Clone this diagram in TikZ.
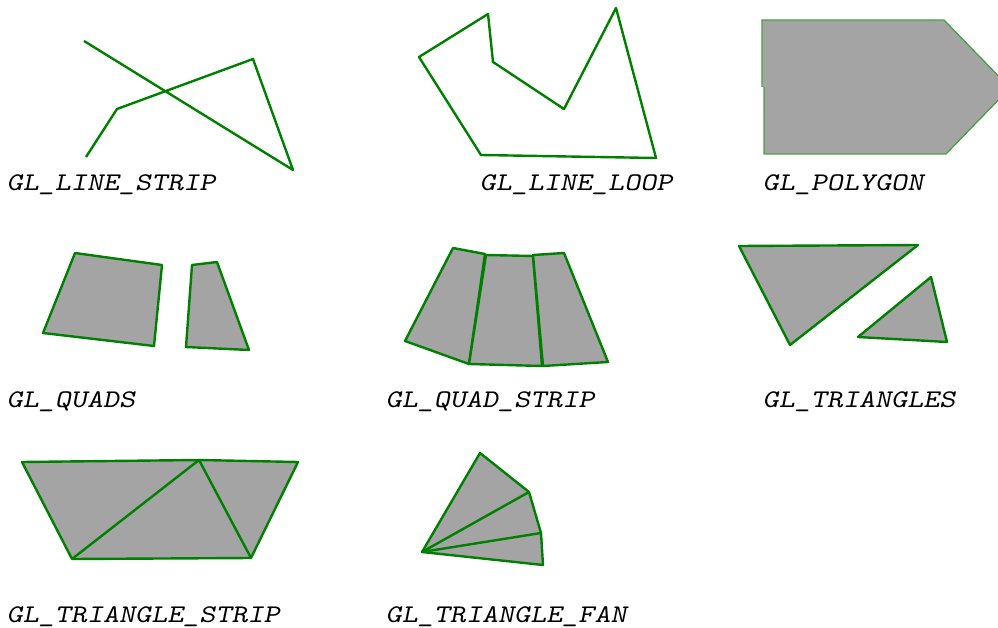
\documentclass[tikz,border=0pt]{standalone}
\definecolor{glgreen}{RGB}{0,128,0}
\definecolor{polygreen}{RGB}{70,160,70}
\definecolor{glgray}{RGB}{164,164,164}
\newcommand{\gllabel}[1]{\scalebox{1}[0.83]{#1}}
\begin{document}
\begin{tikzpicture}[x=1pt,y=-1pt,
  edge/.style={draw=glgreen,line width=2.4pt,line join=round},
  face/.style={fill=glgray,draw=glgreen,line width=2.4pt,line join=round},
  lbl/.style={anchor=base west,inner sep=0pt,font=\fontsize{30.6pt}{34pt}\ttfamily\slshape}]
\useasboundingbox (0,0) rectangle (998,628);
\clip (0,0) rectangle (998,628);
% GL_LINE_STRIP
\draw[edge] (86,157) -- (117,109) -- (253,59) -- (293,170) -- (84,41);
% GL_LINE_LOOP
\draw[edge] (419,57) -- (488,14) -- (493,62) -- (564,109) -- (616,8) -- (656,158) -- (481,155) -- cycle;
% GL_POLYGON
\fill[glgray] (762,20) -- (944,20) -- (1010,88) -- (946,154) -- (764,154) -- (764,87) -- (762,87) -- cycle;
\draw[polygreen,line width=1.3pt] (762,87) -- (762,20) -- (944,20) -- (977,54) -- (979,56) -- (1010,88) -- (979,120) -- (977,122) -- (946,154) -- (764,154) -- (764,87);
% GL_QUADS
\draw[face] (75,253) -- (162,265) -- (154,346) -- (43,333) -- cycle;
\draw[face] (192,265) -- (217,262) -- (249,350) -- (186,347) -- cycle;
% GL_QUAD_STRIP
\draw[face] (453,248) -- (485,254) -- (469,364) -- (405,341) -- cycle;
\draw[face] (486,255) -- (533,256) -- (542,366) -- (469,364) -- cycle;
\draw[face] (533,255) -- (564,253) -- (608,362) -- (543,366) -- cycle;
% GL_TRIANGLES
\draw[face] (739,246) -- (918,245) -- (790,345) -- cycle;
\draw[face] (931,277) -- (947,342) -- (858,337) -- cycle;
% GL_TRIANGLE_STRIP
\coordinate (s1) at (22,462);
\coordinate (s2) at (199,460);
\coordinate (s3) at (298,462);
\coordinate (s4) at (251,558);
\coordinate (s5) at (72,559);
\draw[face] (s1) -- (s2) -- (s3) -- (s4) -- (s5) -- cycle;
\draw[edge] (s5) -- (s2) -- (s4);
% GL_TRIANGLE_FAN
\coordinate (c) at (422,552);
\coordinate (f1) at (480,453);
\coordinate (f2) at (529,492);
\coordinate (f3) at (541,533);
\coordinate (f4) at (543,565);
\draw[face] (c) -- (f1) -- (f2) -- (f3) -- (f4) -- cycle;
\draw[edge] (c) -- (f2) (c) -- (f3);
% labels
\node[lbl] (l1) at (6.5,191) {\gllabel{GL\_LINE\_STRIP}};
\node[lbl] (l2) at (479.5,191) {\gllabel{GL\_LINE\_LOOP}};
\node[lbl] (l3) at (762.5,191) {\gllabel{GL\_POLYGON}};
\node[lbl] (l4) at (6.5,407) {\gllabel{GL\_QUADS}};
\node[lbl] (l5) at (385.5,407) {\gllabel{GL\_QUAD\_STRIP}};
\node[lbl] (l6) at (762.5,407) {\gllabel{GL\_TRIANGLES}};
\node[lbl] (l7) at (6.5,622) {\gllabel{GL\_TRIANGLE\_STRIP}};
\node[lbl] (l8) at (385.5,622) {\gllabel{GL\_TRIANGLE\_FAN}};
\end{tikzpicture}
\end{document}
